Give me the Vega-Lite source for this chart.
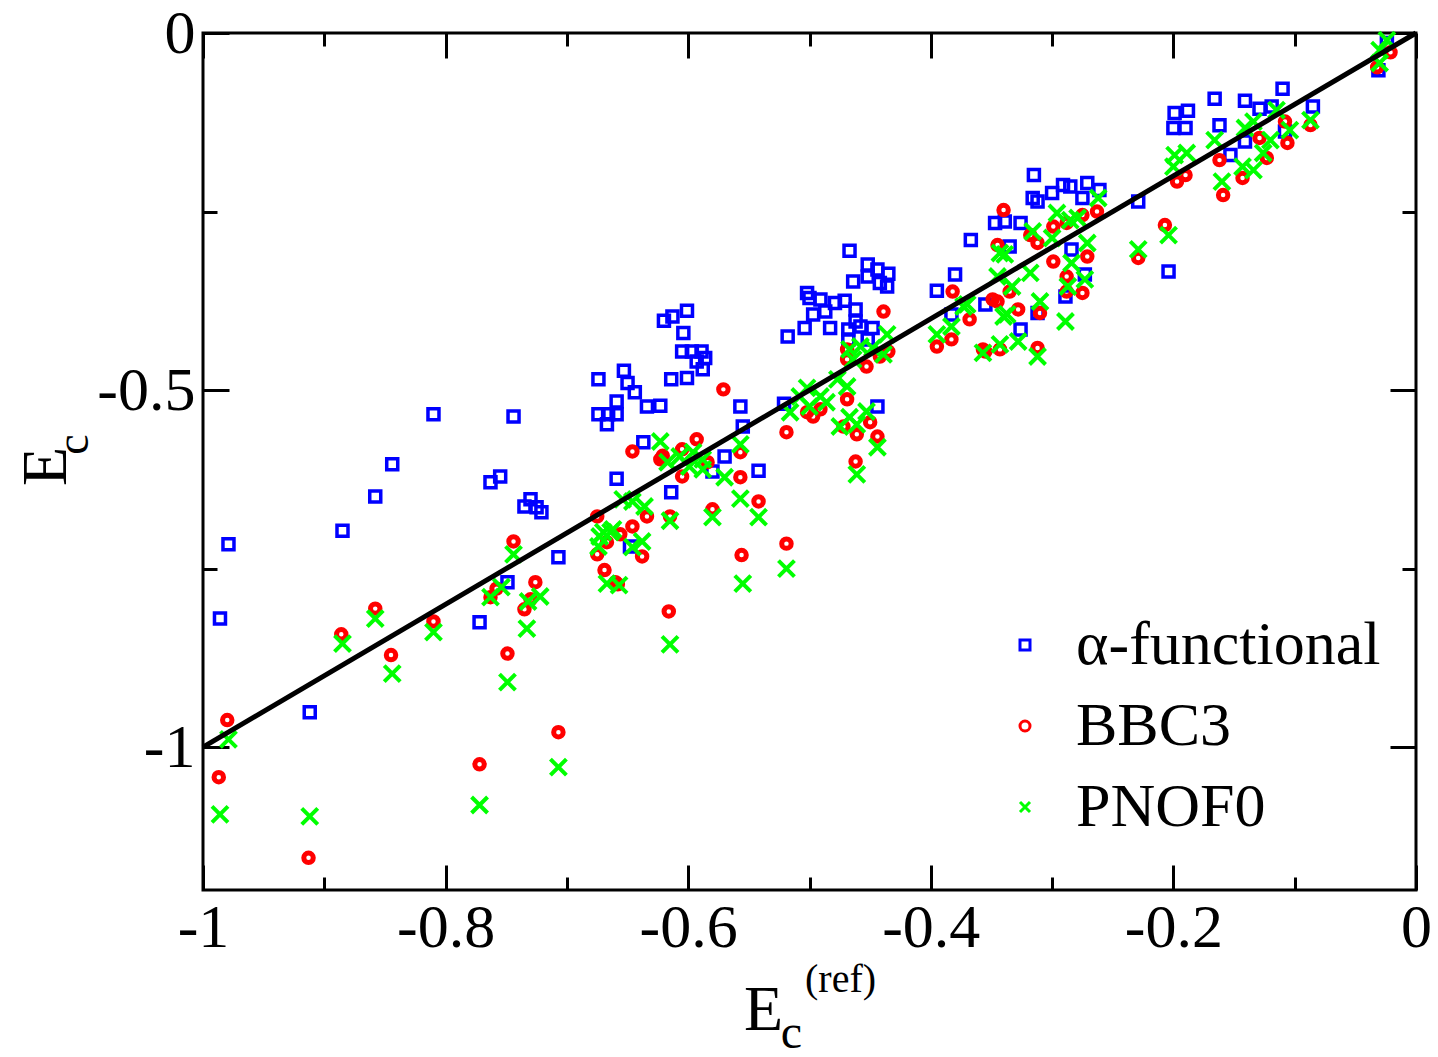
{
"$schema": "https://vega.github.io/schema/vega-lite/v6.json",
"width": 1213, "height": 857,
"autosize": {"type": "none"},
"padding": {"left": 203, "top": 33, "right": 22, "bottom": 167},
"background": "white",
"config": {
  "font": "Liberation Serif",
  "view": {"stroke": "#000", "strokeWidth": 3},
  "axis": {"grid": false, "domain": false, "tickColor": "#000", "tickWidth": 3, "labelColor": "#000", "titleColor": "#000", "labelFlush": false, "labelOverlap": false, "titleFontWeight": "normal", "titleFont": "Liberation Serif", "labelFont": "Liberation Serif"}
},
"datasets": {
"pts": [
{"m":"α-functional","ref":-0.979,"ec":-0.716},{"m":"α-functional","ref":-0.986,"ec":-0.820},{"m":"α-functional","ref":-0.912,"ec":-0.951},{"m":"α-functional","ref":-0.885,"ec":-0.697},{"m":"α-functional","ref":-0.858,"ec":-0.649},{"m":"α-functional","ref":-0.844,"ec":-0.604},{"m":"α-functional","ref":-0.810,"ec":-0.534},{"m":"α-functional","ref":-0.744,"ec":-0.537},{"m":"α-functional","ref":-0.763,"ec":-0.629},{"m":"α-functional","ref":-0.755,"ec":-0.621},{"m":"α-functional","ref":-0.735,"ec":-0.663},{"m":"α-functional","ref":-0.730,"ec":-0.653},{"m":"α-functional","ref":-0.725,"ec":-0.664},{"m":"α-functional","ref":-0.721,"ec":-0.671},{"m":"α-functional","ref":-0.707,"ec":-0.734},{"m":"α-functional","ref":-0.749,"ec":-0.769},{"m":"α-functional","ref":-0.772,"ec":-0.825},{"m":"α-functional","ref":-0.674,"ec":-0.485},{"m":"α-functional","ref":-0.659,"ec":-0.516},{"m":"α-functional","ref":-0.674,"ec":-0.534},{"m":"α-functional","ref":-0.666,"ec":-0.534},{"m":"α-functional","ref":-0.667,"ec":-0.548},{"m":"α-functional","ref":-0.659,"ec":-0.534},{"m":"α-functional","ref":-0.659,"ec":-0.624},{"m":"α-functional","ref":-0.653,"ec":-0.473},{"m":"α-functional","ref":-0.650,"ec":-0.490},{"m":"α-functional","ref":-0.644,"ec":-0.503},{"m":"α-functional","ref":-0.634,"ec":-0.523},{"m":"α-functional","ref":-0.623,"ec":-0.522},{"m":"α-functional","ref":-0.620,"ec":-0.403},{"m":"α-functional","ref":-0.613,"ec":-0.397},{"m":"α-functional","ref":-0.601,"ec":-0.389},{"m":"α-functional","ref":-0.604,"ec":-0.420},{"m":"α-functional","ref":-0.605,"ec":-0.446},{"m":"α-functional","ref":-0.597,"ec":-0.446},{"m":"α-functional","ref":-0.589,"ec":-0.446},{"m":"α-functional","ref":-0.586,"ec":-0.455},{"m":"α-functional","ref":-0.593,"ec":-0.460},{"m":"α-functional","ref":-0.588,"ec":-0.471},{"m":"α-functional","ref":-0.601,"ec":-0.483},{"m":"α-functional","ref":-0.614,"ec":-0.485},{"m":"α-functional","ref":-0.637,"ec":-0.573},{"m":"α-functional","ref":-0.570,"ec":-0.593},{"m":"α-functional","ref":-0.542,"ec":-0.613},{"m":"α-functional","ref":-0.580,"ec":-0.614},{"m":"α-functional","ref":-0.557,"ec":-0.523},{"m":"α-functional","ref":-0.555,"ec":-0.551},{"m":"α-functional","ref":-0.614,"ec":-0.643},{"m":"α-functional","ref":-0.648,"ec":-0.719},{"m":"α-functional","ref":-0.518,"ec":-0.425},{"m":"α-functional","ref":-0.521,"ec":-0.519},{"m":"α-functional","ref":-0.367,"ec":-0.290},{"m":"α-functional","ref":-0.467,"ec":-0.305},{"m":"α-functional","ref":-0.452,"ec":-0.324},{"m":"α-functional","ref":-0.444,"ec":-0.331},{"m":"α-functional","ref":-0.435,"ec":-0.337},{"m":"α-functional","ref":-0.452,"ec":-0.341},{"m":"α-functional","ref":-0.442,"ec":-0.350},{"m":"α-functional","ref":-0.436,"ec":-0.355},{"m":"α-functional","ref":-0.464,"ec":-0.348},{"m":"α-functional","ref":-0.380,"ec":-0.338},{"m":"α-functional","ref":-0.395,"ec":-0.361},{"m":"α-functional","ref":-0.502,"ec":-0.364},{"m":"α-functional","ref":-0.500,"ec":-0.371},{"m":"α-functional","ref":-0.491,"ec":-0.373},{"m":"α-functional","ref":-0.479,"ec":-0.378},{"m":"α-functional","ref":-0.471,"ec":-0.375},{"m":"α-functional","ref":-0.497,"ec":-0.394},{"m":"α-functional","ref":-0.487,"ec":-0.390},{"m":"α-functional","ref":-0.483,"ec":-0.413},{"m":"α-functional","ref":-0.504,"ec":-0.413},{"m":"α-functional","ref":-0.462,"ec":-0.387},{"m":"α-functional","ref":-0.462,"ec":-0.404},{"m":"α-functional","ref":-0.468,"ec":-0.415},{"m":"α-functional","ref":-0.458,"ec":-0.411},{"m":"α-functional","ref":-0.448,"ec":-0.413},{"m":"α-functional","ref":-0.468,"ec":-0.429},{"m":"α-functional","ref":-0.452,"ec":-0.429},{"m":"α-functional","ref":-0.355,"ec":-0.380},{"m":"α-functional","ref":-0.383,"ec":-0.394},{"m":"α-functional","ref":-0.444,"ec":-0.523},{"m":"α-functional","ref":-0.315,"ec":-0.199},{"m":"α-functional","ref":-0.316,"ec":-0.231},{"m":"α-functional","ref":-0.312,"ec":-0.236},{"m":"α-functional","ref":-0.300,"ec":-0.224},{"m":"α-functional","ref":-0.291,"ec":-0.213},{"m":"α-functional","ref":-0.285,"ec":-0.215},{"m":"α-functional","ref":-0.271,"ec":-0.210},{"m":"α-functional","ref":-0.261,"ec":-0.220},{"m":"α-functional","ref":-0.275,"ec":-0.231},{"m":"α-functional","ref":-0.347,"ec":-0.266},{"m":"α-functional","ref":-0.339,"ec":-0.264},{"m":"α-functional","ref":-0.326,"ec":-0.266},{"m":"α-functional","ref":-0.335,"ec":-0.299},{"m":"α-functional","ref":-0.289,"ec":-0.369},{"m":"α-functional","ref":-0.273,"ec":-0.338},{"m":"α-functional","ref":-0.284,"ec":-0.303},{"m":"α-functional","ref":-0.229,"ec":-0.236},{"m":"α-functional","ref":-0.204,"ec":-0.334},{"m":"α-functional","ref":-0.326,"ec":-0.415},{"m":"α-functional","ref":-0.312,"ec":-0.392},{"m":"α-functional","ref":-0.110,"ec":-0.078},{"m":"α-functional","ref":-0.166,"ec":-0.092},{"m":"α-functional","ref":-0.141,"ec":-0.095},{"m":"α-functional","ref":-0.199,"ec":-0.112},{"m":"α-functional","ref":-0.188,"ec":-0.109},{"m":"α-functional","ref":-0.200,"ec":-0.133},{"m":"α-functional","ref":-0.190,"ec":-0.133},{"m":"α-functional","ref":-0.162,"ec":-0.129},{"m":"α-functional","ref":-0.129,"ec":-0.106},{"m":"α-functional","ref":-0.119,"ec":-0.103},{"m":"α-functional","ref":-0.085,"ec":-0.103},{"m":"α-functional","ref":-0.108,"ec":-0.138},{"m":"α-functional","ref":-0.153,"ec":-0.171},{"m":"α-functional","ref":-0.141,"ec":-0.152},{"m":"α-functional","ref":-0.031,"ec":-0.052},{"m":"α-functional","ref":-0.024,"ec":-0.014},
{"m":"BBC3","ref":-0.980,"ec":-0.962},{"m":"BBC3","ref":-0.987,"ec":-1.042},{"m":"BBC3","ref":-0.913,"ec":-1.155},{"m":"BBC3","ref":-0.886,"ec":-0.842},{"m":"BBC3","ref":-0.858,"ec":-0.806},{"m":"BBC3","ref":-0.845,"ec":-0.871},{"m":"BBC3","ref":-0.810,"ec":-0.824},{"m":"BBC3","ref":-0.772,"ec":-1.024},{"m":"BBC3","ref":-0.749,"ec":-0.869},{"m":"BBC3","ref":-0.744,"ec":-0.712},{"m":"BBC3","ref":-0.726,"ec":-0.769},{"m":"BBC3","ref":-0.735,"ec":-0.807},{"m":"BBC3","ref":-0.730,"ec":-0.793},{"m":"BBC3","ref":-0.763,"ec":-0.790},{"m":"BBC3","ref":-0.758,"ec":-0.778},{"m":"BBC3","ref":-0.707,"ec":-0.979},{"m":"BBC3","ref":-0.675,"ec":-0.677},{"m":"BBC3","ref":-0.675,"ec":-0.730},{"m":"BBC3","ref":-0.669,"ec":-0.752},{"m":"BBC3","ref":-0.660,"ec":-0.769},{"m":"BBC3","ref":-0.571,"ec":-0.499},{"m":"BBC3","ref":-0.646,"ec":-0.586},{"m":"BBC3","ref":-0.593,"ec":-0.569},{"m":"BBC3","ref":-0.605,"ec":-0.583},{"m":"BBC3","ref":-0.621,"ec":-0.592},{"m":"BBC3","ref":-0.623,"ec":-0.597},{"m":"BBC3","ref":-0.557,"ec":-0.587},{"m":"BBC3","ref":-0.519,"ec":-0.559},{"m":"BBC3","ref":-0.557,"ec":-0.622},{"m":"BBC3","ref":-0.605,"ec":-0.621},{"m":"BBC3","ref":-0.584,"ec":-0.601},{"m":"BBC3","ref":-0.542,"ec":-0.656},{"m":"BBC3","ref":-0.615,"ec":-0.677},{"m":"BBC3","ref":-0.580,"ec":-0.667},{"m":"BBC3","ref":-0.634,"ec":-0.677},{"m":"BBC3","ref":-0.646,"ec":-0.691},{"m":"BBC3","ref":-0.656,"ec":-0.702},{"m":"BBC3","ref":-0.667,"ec":-0.713},{"m":"BBC3","ref":-0.638,"ec":-0.733},{"m":"BBC3","ref":-0.658,"ec":-0.772},{"m":"BBC3","ref":-0.519,"ec":-0.715},{"m":"BBC3","ref":-0.556,"ec":-0.731},{"m":"BBC3","ref":-0.616,"ec":-0.810},{"m":"BBC3","ref":-0.439,"ec":-0.390},{"m":"BBC3","ref":-0.382,"ec":-0.362},{"m":"BBC3","ref":-0.345,"ec":-0.297},{"m":"BBC3","ref":-0.368,"ec":-0.401},{"m":"BBC3","ref":-0.395,"ec":-0.439},{"m":"BBC3","ref":-0.383,"ec":-0.429},{"m":"BBC3","ref":-0.345,"ec":-0.376},{"m":"BBC3","ref":-0.469,"ec":-0.443},{"m":"BBC3","ref":-0.469,"ec":-0.457},{"m":"BBC3","ref":-0.453,"ec":-0.467},{"m":"BBC3","ref":-0.442,"ec":-0.453},{"m":"BBC3","ref":-0.435,"ec":-0.446},{"m":"BBC3","ref":-0.355,"ec":-0.446},{"m":"BBC3","ref":-0.497,"ec":-0.537},{"m":"BBC3","ref":-0.491,"ec":-0.527},{"m":"BBC3","ref":-0.502,"ec":-0.531},{"m":"BBC3","ref":-0.469,"ec":-0.513},{"m":"BBC3","ref":-0.472,"ec":-0.551},{"m":"BBC3","ref":-0.461,"ec":-0.562},{"m":"BBC3","ref":-0.450,"ec":-0.545},{"m":"BBC3","ref":-0.444,"ec":-0.565},{"m":"BBC3","ref":-0.462,"ec":-0.600},{"m":"BBC3","ref":-0.340,"ec":-0.248},{"m":"BBC3","ref":-0.263,"ec":-0.250},{"m":"BBC3","ref":-0.275,"ec":-0.255},{"m":"BBC3","ref":-0.299,"ec":-0.271},{"m":"BBC3","ref":-0.288,"ec":-0.266},{"m":"BBC3","ref":-0.318,"ec":-0.283},{"m":"BBC3","ref":-0.312,"ec":-0.294},{"m":"BBC3","ref":-0.271,"ec":-0.313},{"m":"BBC3","ref":-0.207,"ec":-0.269},{"m":"BBC3","ref":-0.229,"ec":-0.315},{"m":"BBC3","ref":-0.299,"ec":-0.320},{"m":"BBC3","ref":-0.288,"ec":-0.341},{"m":"BBC3","ref":-0.288,"ec":-0.362},{"m":"BBC3","ref":-0.275,"ec":-0.364},{"m":"BBC3","ref":-0.335,"ec":-0.362},{"m":"BBC3","ref":-0.349,"ec":-0.373},{"m":"BBC3","ref":-0.328,"ec":-0.387},{"m":"BBC3","ref":-0.310,"ec":-0.392},{"m":"BBC3","ref":-0.357,"ec":-0.443},{"m":"BBC3","ref":-0.343,"ec":-0.443},{"m":"BBC3","ref":-0.312,"ec":-0.441},{"m":"BBC3","ref":-0.197,"ec":-0.208},{"m":"BBC3","ref":-0.190,"ec":-0.199},{"m":"BBC3","ref":-0.162,"ec":-0.178},{"m":"BBC3","ref":-0.159,"ec":-0.227},{"m":"BBC3","ref":-0.143,"ec":-0.203},{"m":"BBC3","ref":-0.129,"ec":-0.147},{"m":"BBC3","ref":-0.123,"ec":-0.175},{"m":"BBC3","ref":-0.106,"ec":-0.154},{"m":"BBC3","ref":-0.108,"ec":-0.124},{"m":"BBC3","ref":-0.087,"ec":-0.129},{"m":"BBC3","ref":-0.032,"ec":-0.048},{"m":"BBC3","ref":-0.021,"ec":-0.027},
{"m":"PNOF0","ref":-0.979,"ec":-0.989},{"m":"PNOF0","ref":-0.986,"ec":-1.094},{"m":"PNOF0","ref":-0.912,"ec":-1.097},{"m":"PNOF0","ref":-0.885,"ec":-0.855},{"m":"PNOF0","ref":-0.858,"ec":-0.820},{"m":"PNOF0","ref":-0.844,"ec":-0.897},{"m":"PNOF0","ref":-0.810,"ec":-0.839},{"m":"PNOF0","ref":-0.772,"ec":-1.081},{"m":"PNOF0","ref":-0.749,"ec":-0.909},{"m":"PNOF0","ref":-0.744,"ec":-0.730},{"m":"PNOF0","ref":-0.763,"ec":-0.790},{"m":"PNOF0","ref":-0.754,"ec":-0.776},{"m":"PNOF0","ref":-0.722,"ec":-0.789},{"m":"PNOF0","ref":-0.732,"ec":-0.796},{"m":"PNOF0","ref":-0.733,"ec":-0.834},{"m":"PNOF0","ref":-0.707,"ec":-1.028},{"m":"PNOF0","ref":-0.673,"ec":-0.705},{"m":"PNOF0","ref":-0.664,"ec":-0.699},{"m":"PNOF0","ref":-0.674,"ec":-0.719},{"m":"PNOF0","ref":-0.667,"ec":-0.771},{"m":"PNOF0","ref":-0.623,"ec":-0.572},{"m":"PNOF0","ref":-0.557,"ec":-0.576},{"m":"PNOF0","ref":-0.516,"ec":-0.531},{"m":"PNOF0","ref":-0.596,"ec":-0.587},{"m":"PNOF0","ref":-0.588,"ec":-0.597},{"m":"PNOF0","ref":-0.607,"ec":-0.593},{"m":"PNOF0","ref":-0.617,"ec":-0.601},{"m":"PNOF0","ref":-0.599,"ec":-0.607},{"m":"PNOF0","ref":-0.570,"ec":-0.622},{"m":"PNOF0","ref":-0.588,"ec":-0.611},{"m":"PNOF0","ref":-0.557,"ec":-0.652},{"m":"PNOF0","ref":-0.542,"ec":-0.678},{"m":"PNOF0","ref":-0.580,"ec":-0.678},{"m":"PNOF0","ref":-0.615,"ec":-0.683},{"m":"PNOF0","ref":-0.636,"ec":-0.663},{"m":"PNOF0","ref":-0.646,"ec":-0.656},{"m":"PNOF0","ref":-0.654,"ec":-0.653},{"m":"PNOF0","ref":-0.670,"ec":-0.699},{"m":"PNOF0","ref":-0.662,"ec":-0.695},{"m":"PNOF0","ref":-0.638,"ec":-0.712},{"m":"PNOF0","ref":-0.646,"ec":-0.720},{"m":"PNOF0","ref":-0.657,"ec":-0.773},{"m":"PNOF0","ref":-0.555,"ec":-0.771},{"m":"PNOF0","ref":-0.519,"ec":-0.750},{"m":"PNOF0","ref":-0.615,"ec":-0.856},{"m":"PNOF0","ref":-0.436,"ec":-0.422},{"m":"PNOF0","ref":-0.467,"ec":-0.443},{"m":"PNOF0","ref":-0.458,"ec":-0.439},{"m":"PNOF0","ref":-0.448,"ec":-0.441},{"m":"PNOF0","ref":-0.439,"ec":-0.450},{"m":"PNOF0","ref":-0.464,"ec":-0.457},{"m":"PNOF0","ref":-0.395,"ec":-0.422},{"m":"PNOF0","ref":-0.383,"ec":-0.411},{"m":"PNOF0","ref":-0.370,"ec":-0.380},{"m":"PNOF0","ref":-0.343,"ec":-0.308},{"m":"PNOF0","ref":-0.340,"ec":-0.397},{"m":"PNOF0","ref":-0.357,"ec":-0.448},{"m":"PNOF0","ref":-0.343,"ec":-0.436},{"m":"PNOF0","ref":-0.477,"ec":-0.485},{"m":"PNOF0","ref":-0.469,"ec":-0.495},{"m":"PNOF0","ref":-0.502,"ec":-0.497},{"m":"PNOF0","ref":-0.491,"ec":-0.509},{"m":"PNOF0","ref":-0.508,"ec":-0.509},{"m":"PNOF0","ref":-0.500,"ec":-0.523},{"m":"PNOF0","ref":-0.486,"ec":-0.517},{"m":"PNOF0","ref":-0.467,"ec":-0.538},{"m":"PNOF0","ref":-0.453,"ec":-0.530},{"m":"PNOF0","ref":-0.475,"ec":-0.551},{"m":"PNOF0","ref":-0.461,"ec":-0.548},{"m":"PNOF0","ref":-0.444,"ec":-0.580},{"m":"PNOF0","ref":-0.461,"ec":-0.618},{"m":"PNOF0","ref":-0.262,"ec":-0.231},{"m":"PNOF0","ref":-0.296,"ec":-0.252},{"m":"PNOF0","ref":-0.285,"ec":-0.262},{"m":"PNOF0","ref":-0.279,"ec":-0.259},{"m":"PNOF0","ref":-0.316,"ec":-0.278},{"m":"PNOF0","ref":-0.300,"ec":-0.287},{"m":"PNOF0","ref":-0.271,"ec":-0.294},{"m":"PNOF0","ref":-0.339,"ec":-0.310},{"m":"PNOF0","ref":-0.284,"ec":-0.322},{"m":"PNOF0","ref":-0.229,"ec":-0.303},{"m":"PNOF0","ref":-0.204,"ec":-0.283},{"m":"PNOF0","ref":-0.318,"ec":-0.336},{"m":"PNOF0","ref":-0.345,"ec":-0.341},{"m":"PNOF0","ref":-0.333,"ec":-0.355},{"m":"PNOF0","ref":-0.287,"ec":-0.355},{"m":"PNOF0","ref":-0.273,"ec":-0.345},{"m":"PNOF0","ref":-0.310,"ec":-0.376},{"m":"PNOF0","ref":-0.337,"ec":-0.394},{"m":"PNOF0","ref":-0.373,"ec":-0.383},{"m":"PNOF0","ref":-0.289,"ec":-0.404},{"m":"PNOF0","ref":-0.328,"ec":-0.432},{"m":"PNOF0","ref":-0.312,"ec":-0.453},{"m":"PNOF0","ref":-0.199,"ec":-0.171},{"m":"PNOF0","ref":-0.189,"ec":-0.168},{"m":"PNOF0","ref":-0.200,"ec":-0.187},{"m":"PNOF0","ref":-0.166,"ec":-0.150},{"m":"PNOF0","ref":-0.160,"ec":-0.208},{"m":"PNOF0","ref":-0.141,"ec":-0.133},{"m":"PNOF0","ref":-0.134,"ec":-0.124},{"m":"PNOF0","ref":-0.115,"ec":-0.108},{"m":"PNOF0","ref":-0.120,"ec":-0.150},{"m":"PNOF0","ref":-0.126,"ec":-0.168},{"m":"PNOF0","ref":-0.104,"ec":-0.136},{"m":"PNOF0","ref":-0.087,"ec":-0.122},{"m":"PNOF0","ref":-0.143,"ec":-0.187},{"m":"PNOF0","ref":-0.134,"ec":-0.192},{"m":"PNOF0","ref":-0.030,"ec":-0.024},{"m":"PNOF0","ref":-0.024,"ec":-0.010},{"m":"PNOF0","ref":-0.030,"ec":-0.042}
],
"diag": [{"ref": -1, "ec": -1}, {"ref": 0, "ec": 0}]
},
"resolve": {"axis": {"x": "independent", "y": "independent"}},
"layer": [
{
  "data": {"name": "pts"},
  "transform": [{"filter": "datum.m == 'α-functional'"}],
  "mark": {"type": "point", "filled": false, "opacity": 1, "size": 121, "strokeWidth": 3.5},
  "encoding": {
    "x": {"field": "ref", "type": "quantitative", "scale": {"domain": [-1, 0], "nice": false, "zero": false},
      "axis": {"orient": "bottom", "values": [-1, -0.8, -0.6, -0.4, -0.2, 0], "ticks": false, "labelFontSize": 62, "labelPadding": 7,
        "labelExpr": "datum.value == 0 ? '0' : '-' + format(abs(datum.value), '~g')",
        "title": "E", "titleFontSize": 64, "titleX": 560, "titleY": 139, "titleAlign": "center", "titleBaseline": "alphabetic"}},
    "y": {"field": "ec", "type": "quantitative", "scale": {"domain": [-1.2, 0], "nice": false, "zero": false},
      "axis": {"orient": "left", "values": [0, -0.5, -1], "ticks": false, "labelFontSize": 62, "labelPadding": 8,
        "labelExpr": "datum.value == 0 ? '0' : '-' + format(abs(datum.value), '~g')",
        "title": "E", "titleFontSize": 64, "titleAngle": 270, "titleX": -138, "titleY": 433, "titleAlign": "center", "titleBaseline": "alphabetic"}},
    "color": {"field": "m", "type": "nominal", "scale": {"domain": ["α-functional", "BBC3", "PNOF0"], "range": ["#0000ff", "#ff0000", "#00ff00"]},
      "legend": {"orient": "none", "legendX": 791, "legendY": 581, "title": null, "labelFontSize": 62, "labelFont": "Liberation Serif", "labelColor": "#000", "labelLimit": 0, "symbolSize": 100, "symbolStrokeWidth": 3, "rowPadding": 19, "labelOffset": 20}},
    "shape": {"field": "m", "type": "nominal", "scale": {"domain": ["α-functional", "BBC3", "PNOF0"], "range": ["square", "circle", "M-1,-1L1,1M-1,1L1,-1"]},
      "legend": {"orient": "none", "legendX": 791, "legendY": 581, "title": null, "labelFontSize": 62, "labelFont": "Liberation Serif", "labelColor": "#000", "labelLimit": 0, "symbolSize": 100, "symbolStrokeWidth": 3, "rowPadding": 19, "labelOffset": 20}}
  }
},
{
  "data": {"name": "pts"},
  "transform": [{"filter": "datum.m == 'BBC3'"}],
  "mark": {"type": "point", "filled": false, "opacity": 1, "size": 90, "strokeWidth": 5},
  "encoding": {
    "x": {"field": "ref", "type": "quantitative", "scale": {"domain": [-1, 0], "nice": false, "zero": false}, "axis": null},
    "y": {"field": "ec", "type": "quantitative", "scale": {"domain": [-1.2, 0], "nice": false, "zero": false}, "axis": null},
    "color": {"field": "m", "type": "nominal", "scale": {"domain": ["α-functional", "BBC3", "PNOF0"], "range": ["#0000ff", "#ff0000", "#00ff00"]},
      "legend": {"orient": "none", "legendX": 791, "legendY": 581, "title": null, "labelFontSize": 62, "labelFont": "Liberation Serif", "labelColor": "#000", "labelLimit": 0, "symbolSize": 100, "symbolStrokeWidth": 3, "rowPadding": 19, "labelOffset": 20}},
    "shape": {"field": "m", "type": "nominal", "scale": {"domain": ["α-functional", "BBC3", "PNOF0"], "range": ["square", "circle", "M-1,-1L1,1M-1,1L1,-1"]},
      "legend": {"orient": "none", "legendX": 791, "legendY": 581, "title": null, "labelFontSize": 62, "labelFont": "Liberation Serif", "labelColor": "#000", "labelLimit": 0, "symbolSize": 100, "symbolStrokeWidth": 3, "rowPadding": 19, "labelOffset": 20}}
  }
},
{
  "data": {"name": "pts"},
  "transform": [{"filter": "datum.m == 'PNOF0'"}],
  "mark": {"type": "point", "filled": false, "opacity": 1, "size": 256, "strokeWidth": 4},
  "encoding": {
    "x": {"field": "ref", "type": "quantitative", "scale": {"domain": [-1, 0], "nice": false, "zero": false}, "axis": null},
    "y": {"field": "ec", "type": "quantitative", "scale": {"domain": [-1.2, 0], "nice": false, "zero": false}, "axis": null},
    "color": {"field": "m", "type": "nominal", "scale": {"domain": ["α-functional", "BBC3", "PNOF0"], "range": ["#0000ff", "#ff0000", "#00ff00"]},
      "legend": {"orient": "none", "legendX": 791, "legendY": 581, "title": null, "labelFontSize": 62, "labelFont": "Liberation Serif", "labelColor": "#000", "labelLimit": 0, "symbolSize": 100, "symbolStrokeWidth": 3, "rowPadding": 19, "labelOffset": 20}},
    "shape": {"field": "m", "type": "nominal", "scale": {"domain": ["α-functional", "BBC3", "PNOF0"], "range": ["square", "circle", "M-1,-1L1,1M-1,1L1,-1"]},
      "legend": {"orient": "none", "legendX": 791, "legendY": 581, "title": null, "labelFontSize": 62, "labelFont": "Liberation Serif", "labelColor": "#000", "labelLimit": 0, "symbolSize": 100, "symbolStrokeWidth": 3, "rowPadding": 19, "labelOffset": 20}}
  }
},
{
  "data": {"name": "diag"},
  "mark": {"type": "line", "color": "#000", "strokeWidth": 5},
  "encoding": {
    "x": {"field": "ref", "type": "quantitative", "scale": {"domain": [-1, 0], "nice": false, "zero": false},
      "axis": {"orient": "bottom", "values": [-1, -0.8, -0.6, -0.4, -0.2, 0], "tickSize": -25, "labels": false,
        "title": "c", "titleFontSize": 48, "titleX": 588, "titleY": 157, "titleAlign": "center", "titleBaseline": "alphabetic"}},
    "y": {"field": "ec", "type": "quantitative", "scale": {"domain": [-1.2, 0], "nice": false, "zero": false},
      "axis": {"orient": "left", "values": [0, -0.5, -1], "tickSize": -26, "labels": false,
        "title": "c", "titleFontSize": 46, "titleAngle": 270, "titleX": -116, "titleY": 411, "titleAlign": "center", "titleBaseline": "alphabetic"}}
  }
},
{
  "data": {"name": "diag"},
  "mark": {"type": "line", "opacity": 0},
  "encoding": {
    "x": {"field": "ref", "type": "quantitative", "scale": {"domain": [-1, 0], "nice": false, "zero": false},
      "axis": {"orient": "bottom", "values": [-0.9, -0.7, -0.5, -0.3, -0.1], "tickSize": -13, "labels": false,
        "title": "(ref)", "titleFontSize": 40, "titleX": 637, "titleY": 101, "titleAlign": "center", "titleBaseline": "alphabetic"}},
    "y": {"field": "ec", "type": "quantitative", "scale": {"domain": [-1.2, 0], "nice": false, "zero": false},
      "axis": {"orient": "left", "values": [-0.25, -0.75], "tickSize": -14, "labels": false, "title": null}}
  }
},
{
  "data": {"name": "diag"},
  "mark": {"type": "line", "opacity": 0},
  "encoding": {
    "x": {"field": "ref", "type": "quantitative", "scale": {"domain": [-1, 0], "nice": false, "zero": false},
      "axis": {"orient": "top", "values": [-1, -0.8, -0.6, -0.4, -0.2, 0], "tickSize": -25, "labels": false, "title": null}},
    "y": {"field": "ec", "type": "quantitative", "scale": {"domain": [-1.2, 0], "nice": false, "zero": false},
      "axis": {"orient": "right", "values": [0, -0.5, -1], "tickSize": -26, "labels": false, "title": null}}
  }
},
{
  "data": {"name": "diag"},
  "mark": {"type": "line", "opacity": 0},
  "encoding": {
    "x": {"field": "ref", "type": "quantitative", "scale": {"domain": [-1, 0], "nice": false, "zero": false},
      "axis": {"orient": "top", "values": [-0.9, -0.7, -0.5, -0.3, -0.1], "tickSize": -13, "labels": false, "title": null}},
    "y": {"field": "ec", "type": "quantitative", "scale": {"domain": [-1.2, 0], "nice": false, "zero": false},
      "axis": {"orient": "right", "values": [-0.25, -0.75], "tickSize": -14, "labels": false, "title": null}}
  }
}
]
}
